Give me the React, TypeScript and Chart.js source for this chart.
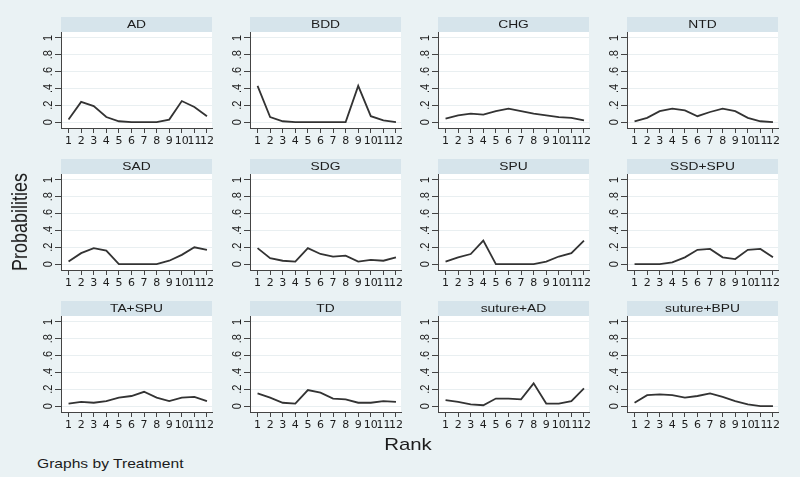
import React, { useEffect, useRef } from "react";
import { Chart, registerables } from "chart.js";

Chart.register(...registerables);

// ---------- data ----------
const treatments = [
  "AD", "BDD", "CHG", "NTD",
  "SAD", "SDG", "SPU", "SSD+SPU",
  "TA+SPU", "TD", "suture+AD", "suture+BPU",
];
const ranks = [1, 2, 3, 4, 5, 6, 7, 8, 9, 10, 11, 12];
const rankLabels = ["1", "2", "3", "4", "5", "6", "7", "8", "9", "10", "11", "12"];
const yTickValues = [0, 0.2, 0.4, 0.6, 0.8, 1];
const yTickLabels = ["0", ".2", ".4", ".6", ".8", "1"];

const probAD = [0.03, 0.24, 0.19, 0.06, 0.01, 0, 0, 0, 0.03, 0.25, 0.18, 0.07];
const probBDD = [0.43, 0.06, 0.01, 0, 0, 0, 0, 0, 0.43, 0.07, 0.02, 0.0];
const probCHG = [0.04, 0.08, 0.1, 0.09, 0.13, 0.16, 0.13, 0.1, 0.08, 0.06, 0.05, 0.02];
const probNTD = [0.01, 0.05, 0.13, 0.16, 0.14, 0.07, 0.12, 0.16, 0.13, 0.05, 0.01, 0.0];
const probSAD = [0.03, 0.13, 0.19, 0.16, 0, 0, 0, 0, 0.04, 0.11, 0.2, 0.17];
const probSDG = [0.19, 0.07, 0.04, 0.03, 0.19, 0.12, 0.09, 0.1, 0.03, 0.05, 0.04, 0.08];
const probSPU = [0.03, 0.08, 0.12, 0.28, 0, 0, 0, 0, 0.03, 0.09, 0.13, 0.28];
const probSSDSPU = [0, 0, 0, 0.02, 0.08, 0.17, 0.18, 0.08, 0.06, 0.17, 0.18, 0.08];
const probTASPU = [0.03, 0.05, 0.04, 0.06, 0.1, 0.12, 0.17, 0.1, 0.06, 0.1, 0.11, 0.06];
const probTD = [0.15, 0.1, 0.04, 0.03, 0.19, 0.16, 0.09, 0.08, 0.04, 0.04, 0.06, 0.05];
const probSutureAD = [0.07, 0.05, 0.02, 0.01, 0.09, 0.09, 0.08, 0.27, 0.03, 0.03, 0.06, 0.21];
const probSutureBPU = [0.04, 0.13, 0.14, 0.13, 0.1, 0.12, 0.15, 0.11, 0.06, 0.02, 0.0, 0.0];

const series = [
  probAD, probBDD, probCHG, probNTD,
  probSAD, probSDG, probSPU, probSSDSPU,
  probTASPU, probTD, probSutureAD, probSutureBPU,
];

// ---------- layout / style ----------
const COL_LEFTS = [61, 250, 438, 627];
const ROW_TOPS = [17, 159, 301];
const PANEL_W = 151;
const BAND_H = 15;
const PLOT_H = 96;
const LEFT_GUTTER = 32;
const RIGHT_GUTTER = 9;
const BOTTOM_GUTTER = 22;
const CANVAS_W = LEFT_GUTTER + PANEL_W + RIGHT_GUTTER;
const CANVAS_H = BAND_H + PLOT_H + BOTTOM_GUTTER;

const BG = "#eaf2f4";
const BAND = "#d6e4eb";
const LINE = "#333333";
const GRID = "#e9eff1";
const AXIS = "#444";
const TEXT = "#1c1c1c";
const STRETCH = 1.2;
const SANS = "'Liberation Sans', Arial, sans-serif";

function makeConfig(title: string, values: number[]): any {
  const decor = {
    id: "panelDecor",
    beforeDraw(chart: any) {
      const { ctx, chartArea: a } = chart;
      ctx.save();
      ctx.fillStyle = "#ffffff";
      ctx.fillRect(a.left, a.top, a.right - a.left, a.bottom - a.top);
      ctx.fillStyle = BAND;
      ctx.fillRect(a.left, a.top - BAND_H, a.right - a.left, BAND_H);
      ctx.fillStyle = TEXT;
      ctx.font = `11.5px ${SANS}`;
      ctx.textAlign = "center";
      ctx.textBaseline = "middle";
      ctx.translate((a.left + a.right) / 2, a.top - BAND_H / 2 + 0.5);
      ctx.scale(STRETCH, 1);
      ctx.fillText(title, 0, 0);
      ctx.restore();
    },
    afterDraw(chart: any) {
      const { ctx, chartArea: a } = chart;
      const ys = chart.scales.y;
      ctx.save();
      ctx.fillStyle = TEXT;
      ctx.font = `11px ${SANS}`;
      ctx.textAlign = "center";
      ctx.textBaseline = "middle";
      ys.ticks.forEach((t: any, i: number) => {
        const py = ys.getPixelForValue(t.value);
        ctx.save();
        ctx.translate(a.left - 13, py);
        ctx.scale(STRETCH, 1);
        ctx.rotate(-Math.PI / 2);
        ctx.fillText(yTickLabels[i], 0, 0);
        ctx.restore();
      });
      ctx.restore();
    },
  };

  return {
    type: "line",
    data: {
      datasets: [
        {
          label: title,
          data: values.map((v, i) => ({ x: ranks[i], y: v })),
          borderColor: LINE,
          borderWidth: 1.8,
          pointRadius: 0,
          tension: 0,
          fill: false,
        },
      ],
    },
    options: {
      animation: false,
      responsive: false,
      devicePixelRatio: 1,
      layout: { padding: { top: BAND_H, left: 0, right: RIGHT_GUTTER, bottom: 0 } },
      plugins: {
        legend: { display: false },
        tooltip: { enabled: false },
        title: { display: false },
      },
      scales: {
        x: {
          type: "linear",
          min: 0.4,
          max: 12.4,
          afterBuildTicks: (s: any) => {
            s.ticks = ranks.map((v) => ({ value: v }));
          },
          afterFit: (s: any) => {
            s.height = BOTTOM_GUTTER;
          },
          grid: {
            drawOnChartArea: false,
            drawTicks: true,
            tickLength: 5,
            tickColor: AXIS,
          },
          border: { display: true, color: AXIS, width: 1 },
          ticks: {
            autoSkip: false,
            maxRotation: 0,
            minRotation: 0,
            padding: 2,
            color: TEXT,
            font: { family: "'DejaVu Sans', sans-serif", size: 11 },
            callback: (v: any) => rankLabels[ranks.indexOf(Number(v))] ?? "",
          },
        },
        y: {
          type: "linear",
          min: -0.07,
          max: 1.07,
          afterBuildTicks: (s: any) => {
            s.ticks = yTickValues.map((v) => ({ value: v }));
          },
          afterFit: (s: any) => {
            s.width = LEFT_GUTTER;
          },
          grid: {
            drawOnChartArea: true,
            color: GRID,
            lineWidth: 1,
            drawTicks: true,
            tickLength: 6,
            tickColor: AXIS,
          },
          border: { display: true, color: AXIS, width: 1 },
          ticks: { display: false },
        },
      },
    },
    plugins: [decor],
  };
}

export default function App() {
  const refs = useRef<(HTMLCanvasElement | null)[]>([]);

  useEffect(() => {
    const charts = treatments.map((name, i) => {
      const canvas = refs.current[i] as HTMLCanvasElement;
      return new Chart(canvas, makeConfig(name, series[i]));
    });
    return () => {
      charts.forEach((c) => c.destroy());
    };
  }, []);

  return (
    <div
      style={{
        position: "absolute",
        left: 0,
        top: 0,
        width: 800,
        height: 477,
        background: BG,
        overflow: "hidden",
        fontFamily: SANS,
        color: TEXT,
      }}
    >
      {treatments.map((name, i) => {
        const col = i % 4;
        const row = Math.floor(i / 4);
        return (
          <canvas
            key={name}
            ref={(el) => {
              refs.current[i] = el;
            }}
            width={CANVAS_W}
            height={CANVAS_H}
            style={{
              position: "absolute",
              left: COL_LEFTS[col] - LEFT_GUTTER,
              top: ROW_TOPS[row],
              width: CANVAS_W,
              height: CANVAS_H,
            }}
          />
        );
      })}
      <div
        style={{
          position: "absolute",
          left: 20,
          top: 222,
          fontSize: 18,
          lineHeight: 1,
          whiteSpace: "nowrap",
          transform: `translate(-50%, -50%) rotate(-90deg) scaleY(${STRETCH})`,
        }}
      >
        Probabilities
      </div>
      <div
        style={{
          position: "absolute",
          left: 408,
          top: 444,
          fontSize: 17,
          lineHeight: 1,
          whiteSpace: "nowrap",
          transform: `translate(-50%, -50%) scaleX(${STRETCH})`,
        }}
      >
        Rank
      </div>
      <div
        style={{
          position: "absolute",
          left: 37,
          top: 463,
          fontSize: 13,
          lineHeight: 1,
          whiteSpace: "nowrap",
          transformOrigin: "0 50%",
          transform: `translateY(-50%) scaleX(${STRETCH})`,
        }}
      >
        Graphs by Treatment
      </div>
    </div>
  );
}
